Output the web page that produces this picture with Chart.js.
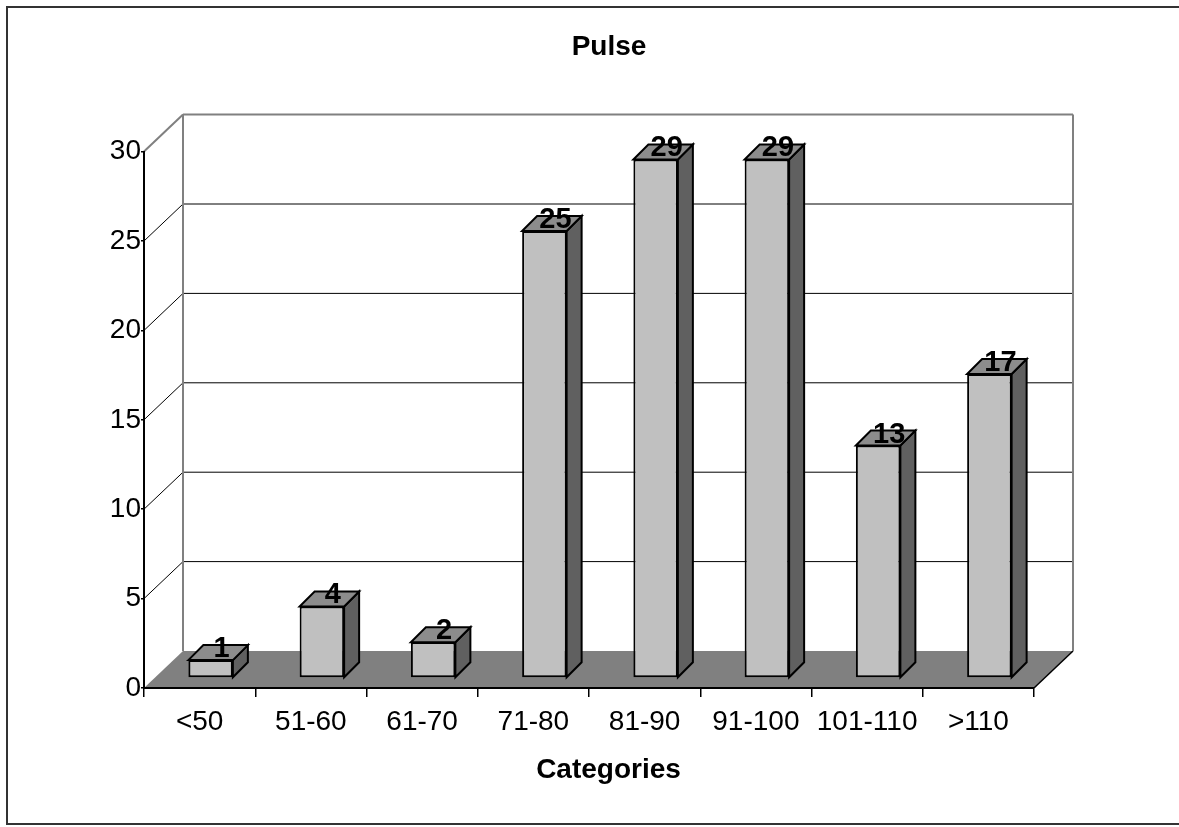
<!DOCTYPE html>
<html>
<head>
<meta charset="utf-8">
<title>Pulse</title>
<script src="https://cdn.jsdelivr.net/npm/chart.js@4.4.1/dist/chart.umd.min.js"></script>
<style>
  html, body { margin: 0; padding: 0; background: #fff; }
  #grafico { width: 1179px; height: 827px; position: relative; }
</style>
</head>
<body>
<div id="grafico"><canvas id="myChart" width="1179" height="827"></canvas></div>
<script>
/* Data */
const categorias = ['<50', '51-60', '61-70', '71-80', '81-90', '91-100', '101-110', '>110'];
const contagens = [1, 4, 2, 25, 29, 29, 13, 17];
const yMin = 0;
const yMax = 30;
const yPasso = 5;

/* Fake 3D: wall depth, bar offset inside that depth, and bar depth */
const PROF_X = 39, PROF_Y = -37;
const DESL_X = 11, DESL_Y = -10;
const BARRA_X = 15, BARRA_Y = -15;

const fonte = "'Liberation Sans', Arial, sans-serif";

function linha(ctx, x1, y1, x2, y2, cor, larg) {
    ctx.beginPath();
    ctx.moveTo(x1, y1);
    ctx.lineTo(x2, y2);
    ctx.strokeStyle = cor;
    ctx.lineWidth = larg;
    ctx.stroke();
}

/* Back wall, floor and side grid, drawn before the scales */
const paredes = {
    id: 'paredes',
    beforeDraw(chart) {
        const ctx = chart.ctx;
        const area = chart.chartArea;
        const y = chart.scales.y;
        ctx.save();
        ctx.fillStyle = '#fff';
        ctx.fillRect(0, 0, chart.width, chart.height);

        /* outer frame (right side is cut off in the reference) */
        ctx.strokeStyle = '#333';
        ctx.lineWidth = 2;
        ctx.strokeRect(7, 7, chart.width + 10, 817);

        /* floor */
        const y0 = y.getPixelForValue(0);
        ctx.beginPath();
        ctx.moveTo(area.left, y0);
        ctx.lineTo(area.right, y0);
        ctx.lineTo(area.right + PROF_X, y0 + PROF_Y);
        ctx.lineTo(area.left + PROF_X, y0 + PROF_Y);
        ctx.closePath();
        ctx.fillStyle = '#808080';
        ctx.fill();
        linha(ctx, area.right, y0, area.right + PROF_X, y0 + PROF_Y, '#000', 1.5);

        /* grid on the back wall + diagonals on the left side */
        for (let v = yMin + yPasso; v < yMax; v += yPasso) {
            const py = y.getPixelForValue(v);
            linha(ctx, area.left + PROF_X, py + PROF_Y, area.right + PROF_X, py + PROF_Y, '#000', 1);
            linha(ctx, area.left, py, area.left + PROF_X, py + PROF_Y, '#000', 1);
        }
        const yTopo = y.getPixelForValue(yMax);
        linha(ctx, area.left, yTopo, area.left + PROF_X, yTopo + PROF_Y, '#808080', 2);
        linha(ctx, area.left + PROF_X, yTopo + PROF_Y, area.right + PROF_X, yTopo + PROF_Y, '#808080', 2);
        linha(ctx, area.left + PROF_X, yTopo + PROF_Y, area.left + PROF_X, y0 + PROF_Y, '#808080', 2);
        linha(ctx, area.right + PROF_X, yTopo + PROF_Y, area.right + PROF_X, y0 + PROF_Y, '#808080', 2);
        ctx.restore();
    },
    beforeDatasetsDraw(chart) {
        chart.ctx.save();
        chart.ctx.translate(DESL_X, DESL_Y);
    },
    afterDatasetsDraw(chart) {
        const ctx = chart.ctx;
        ctx.restore();
        const meta = chart.getDatasetMeta(0);
        ctx.save();
        ctx.lineWidth = 2;
        ctx.strokeStyle = '#000';
        ctx.lineJoin = 'miter';
        meta.data.forEach((bar, i) => {
            const p = bar.getProps(['x', 'y', 'base', 'width'], true);
            const esq = p.x - p.width / 2 + DESL_X;
            const dir = p.x + p.width / 2 + DESL_X;
            const topo = p.y + DESL_Y;
            const base = p.base + DESL_Y;

            /* side face */
            ctx.beginPath();
            ctx.moveTo(dir, topo);
            ctx.lineTo(dir + BARRA_X, topo + BARRA_Y);
            ctx.lineTo(dir + BARRA_X, base + BARRA_Y);
            ctx.lineTo(dir, base);
            ctx.closePath();
            ctx.fillStyle = '#606060';
            ctx.fill();
            ctx.stroke();

            /* top face */
            ctx.beginPath();
            ctx.moveTo(esq, topo);
            ctx.lineTo(esq + BARRA_X, topo + BARRA_Y);
            ctx.lineTo(dir + BARRA_X, topo + BARRA_Y);
            ctx.lineTo(dir, topo);
            ctx.closePath();
            ctx.fillStyle = '#8c8c8c';
            ctx.fill();
            ctx.stroke();

            /* value label */
            ctx.fillStyle = '#000';
            ctx.font = 'bold 29px ' + fonte;
            ctx.textAlign = 'center';
            ctx.textBaseline = 'alphabetic';
            ctx.fillText(String(contagens[i]), p.x + DESL_X + 11, topo - 3);
        });

        /* x axis title, centred on the 3D plot like the original */
        const area = chart.chartArea;
        ctx.font = 'bold 28px ' + fonte;
        ctx.textAlign = 'center';
        ctx.textBaseline = 'middle';
        ctx.fillText('Categories', (area.left + area.right + PROF_X) / 2, 770);
        ctx.restore();
    }
};

const dadosTabela = {
    labels: categorias,
    datasets: [{
        label: 'Pulse',
        data: contagens,
        backgroundColor: '#C0C0C0',
        borderColor: '#000',
        borderWidth: 2,
        borderSkipped: false,
        barPercentage: 0.4,
        categoryPercentage: 1,
        clip: false
    }]
};

const ctx = document.getElementById('myChart');
const myChart = new Chart(ctx, {
    type: 'bar',
    data: dadosTabela,
    plugins: [paredes],
    options: {
        responsive: false,
        animation: false,
        devicePixelRatio: 1,
        layout: { padding: { left: 39, right: 0, top: 0, bottom: 0 } },
        plugins: {
            legend: { display: false },
            tooltip: { enabled: false },
            title: {
                display: true,
                text: 'Pulse',
                color: '#000',
                font: { family: fonte, size: 28, weight: 'bold', lineHeight: 1.2 },
                padding: { top: 30, bottom: 88 }
            }
        },
        scales: {
            x: {
                grid: { display: true, drawOnChartArea: false, color: '#000', lineWidth: 1.5, tickLength: 9 },
                border: { display: true, color: '#000', width: 2 },
                ticks: { color: '#000', font: { family: fonte, size: 28 }, padding: 8, maxRotation: 0, autoSkip: false },
                afterFit(scale) { scale.height = 139; }
            },
            y: {
                min: yMin,
                max: yMax,
                ticks: { stepSize: yPasso, color: '#000', font: { family: fonte, size: 28 }, padding: 0 },
                grid: { display: true, drawOnChartArea: false, color: '#000', lineWidth: 1.5, tickLength: 3 },
                border: { display: true, color: '#000', width: 2 },
                afterFit(scale) { scale.width = 105; }
            },
            y2: {
                type: 'linear',
                position: 'right',
                display: true,
                grid: { display: false },
                border: { display: false },
                ticks: { display: false },
                afterFit(scale) { scale.width = 145; }
            }
        }
    }
});
</script>
</body>
</html>
